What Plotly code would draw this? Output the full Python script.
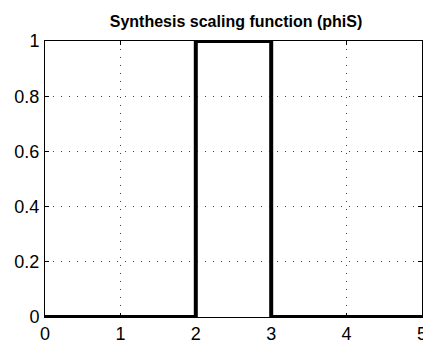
import plotly.graph_objects as go

x_vals = [0, 2, 2, 3, 3, 5]
y_vals = [0, 0, 1, 1, 0, 0]
x_ticks = [0, 1, 2, 3, 4, 5]
y_ticks = [0, 0.2, 0.4, 0.6, 0.8, 1]
y_labels = ["0", "0.2", "0.4", "0.6", "0.8", "1"]
title = "Synthesis scaling function (phiS)"

# page body has an 8px default margin; compensate so the figure fills 431x343
OFF = 8
W, H = 431 - OFF, 343 - OFF

fig = go.Figure()
fig.add_trace(go.Scatter(x=x_vals, y=y_vals, mode="lines",
                         line=dict(color="black", width=4), cliponaxis=False,
                         showlegend=False))

axis_common = dict(showline=True, linecolor="black", linewidth=1, mirror="ticks",
                   showgrid=True, gridcolor="#444444", griddash="1px,7px", gridwidth=1,
                   ticks="inside", ticklen=4, tickcolor="black", zeroline=False,
                   automargin=False,
                   tickfont=dict(family="Liberation Sans, Arial", size=18, color="black"))

fig.update_layout(
    width=W, height=H,
    margin=dict(l=45 - OFF, r=9, t=41 - OFF, b=26),
    paper_bgcolor="white", plot_bgcolor="white",
    title=dict(text="<b>" + title + "</b>", x=(236 - OFF) / W, xanchor="center",
               y=1 - (21 - OFF) / H, yanchor="middle",
               xref="container", yref="container",
               font=dict(family="Liberation Sans, Arial", size=16, color="black")),
    xaxis=dict(range=[0, 5], tickvals=x_ticks, ticktext=[str(t) for t in x_ticks],
               ticklabelstandoff=0, **axis_common),
    yaxis=dict(range=[0, 1], tickvals=y_ticks, ticktext=y_labels,
               ticklabelstandoff=1, **axis_common),
)

fig.write_html("out.html")
